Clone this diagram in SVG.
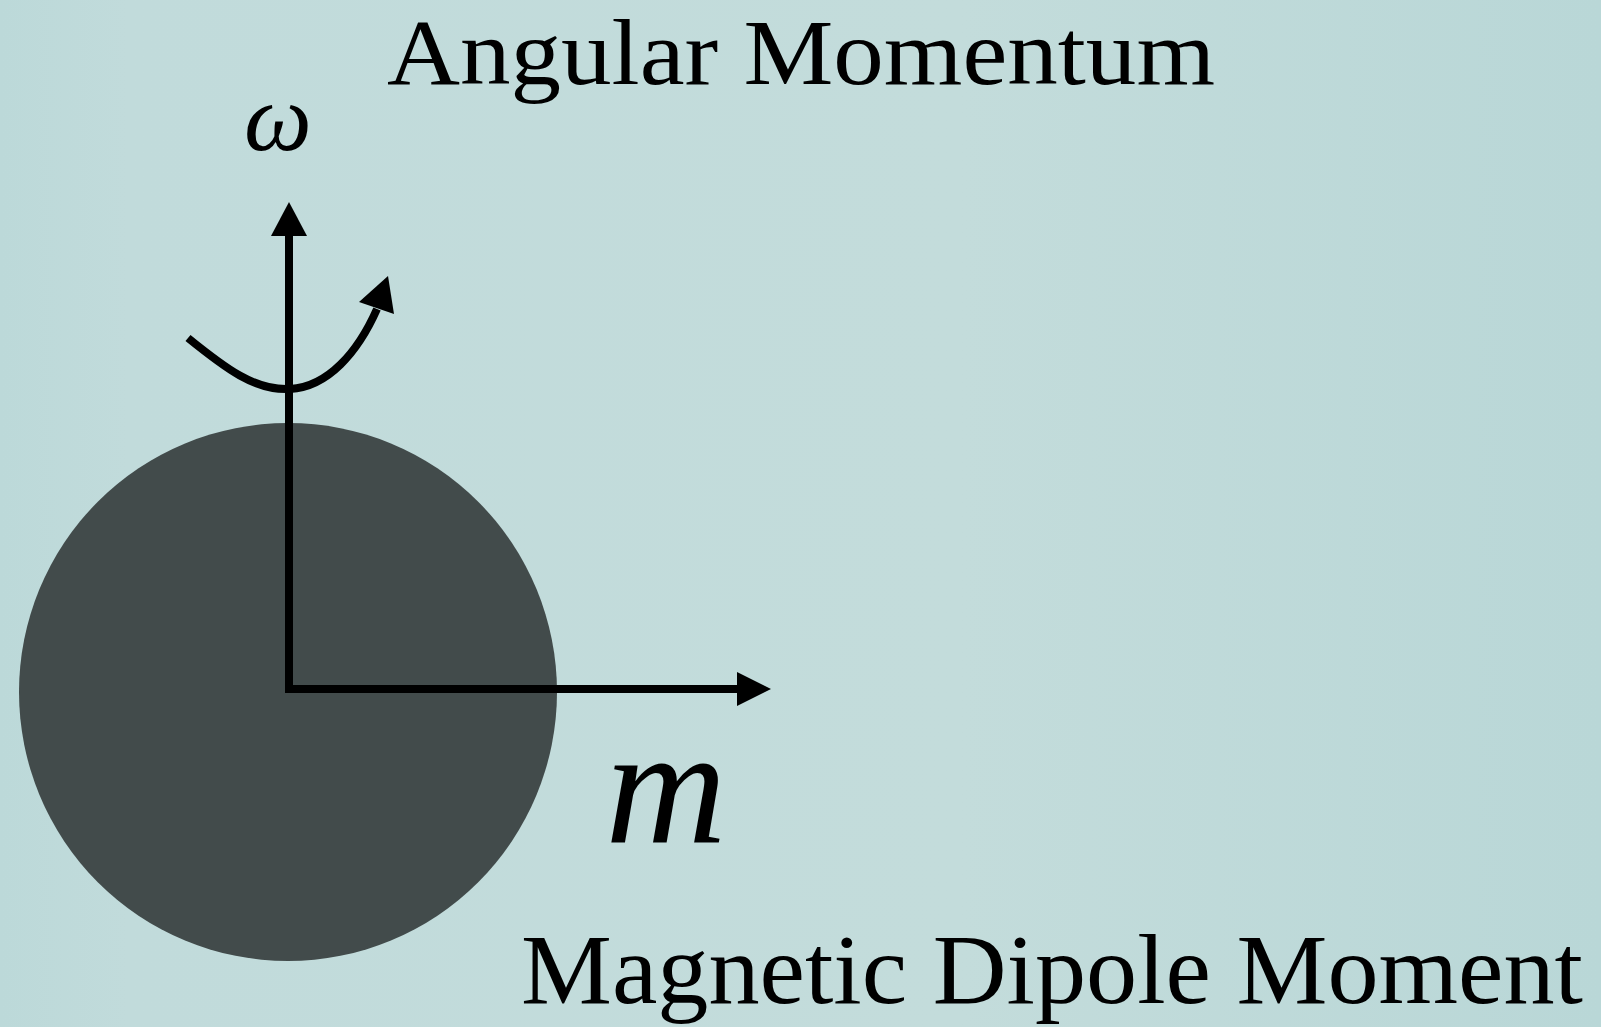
<svg xmlns="http://www.w3.org/2000/svg" width="1601" height="1027" viewBox="0 0 1601 1027">
  <defs>
    <linearGradient id="bg" x1="0" y1="0" x2="1" y2="0">
      <stop offset="0" stop-color="#bcd9d9"/>
      <stop offset="0.08" stop-color="#c1dbdb"/>
      <stop offset="0.6" stop-color="#c3dcdb"/>
      <stop offset="1" stop-color="#b9d7d7"/>
    </linearGradient>
  </defs>
  <style>
    .title { font-family: "Liberation Serif", "Times New Roman", serif; fill: #000; }
    .math { font-family: "Liberation Serif", "Times New Roman", serif; font-style: italic; fill: #000; }
    .axis { stroke: #000; stroke-width: 8; fill: none; }
    .head { fill: #000; stroke: none; }
  </style>
  <rect width="1601" height="1027" fill="url(#bg)"/>

  <g id="sphere">
    <circle cx="288" cy="692" r="269" fill="#424b4b"/>
  </g>

  <g id="connectors">
    <path class="axis" d="M289,236 V689 H737" stroke-linejoin="miter"/>
    <polygon class="head" points="289,202 271,236 307,236"/>
    <polygon class="head" points="771,689 737,672 737,706"/>
    <path class="axis" d="M188,338 C225,368 255,391 290,389 C328,387 358,352 377,309"/>
    <polygon class="head" points="388,276 359,302 394,314"/>
  </g>

  <g id="label-omega">
    <text class="math" x="278" y="150" font-size="96" text-anchor="middle">ω</text>
  </g>
  <g id="label-m">
    <text class="math" x="666" y="842" font-size="168" text-anchor="middle">m</text>
  </g>
  <g id="title-angular">
    <text class="title" x="387" y="84" font-size="94" textLength="828" lengthAdjust="spacingAndGlyphs">Angular Momentum</text>
  </g>
  <g id="title-magnetic">
    <text class="title" x="521" y="1003" font-size="100" textLength="1062" lengthAdjust="spacingAndGlyphs">Magnetic Dipole Moment</text>
  </g>
</svg>
